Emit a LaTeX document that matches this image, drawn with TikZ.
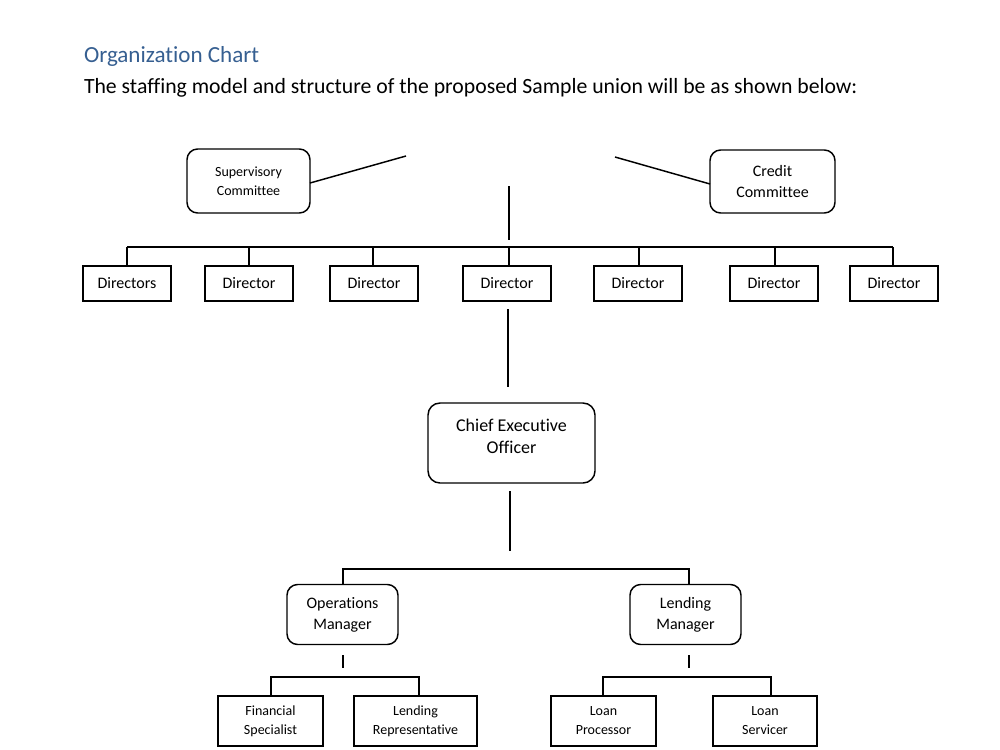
\documentclass[tikz,border=0pt]{standalone}
\usepackage{fontspec}
\setmainfont{Carlito}[Ligatures=NoCommon]
\definecolor{titleblue}{RGB}{54,95,145}
\begin{document}
\begin{tikzpicture}[x=0.75pt,y=-0.75pt,
  every node/.style={inner sep=0pt,outer sep=0pt},
  ln/.style={draw=black,line width=1.1pt},
  box/.style={draw=black,line width=1.1pt,align=center,fill=white},
  rbox/.style={box,rounded corners=8pt},
  dirbox/.style={box,minimum width=66pt,minimum height=26.25pt,font=\fontsize{12pt}{14pt}\selectfont},
  smallbox/.style={box,minimum height=37.5pt,font=\fontsize{10.5pt}{14.2pt}\selectfont},
  midfont/.style={font=\fontsize{12pt}{15.7pt}\selectfont}
]
\useasboundingbox (0,0) rectangle (1000,750);
% titles
\node[anchor=base west,text=titleblue,font=\fontsize{17.3pt}{20pt}\selectfont] (title) at (84,62) {Organization Chart};
\node[anchor=base west,font=\fontsize{16.3pt}{19pt}\selectfont] (subtitle) at (84,93) {The staffing model and structure of the proposed Sample union will be as shown below:};

% committees
\node[rbox,minimum width=92.25pt,minimum height=48pt,font=\fontsize{10.5pt}{14.2pt}\selectfont] (sup) at (248.5,181) {Supervisory\\Committee};
\node[rbox,minimum width=93.75pt,minimum height=47.25pt,midfont] (cred) at (772.5,181.5) {Credit\\Committee};
\coordinate (supend) at (406,156);
\coordinate (credend) at (615,157);
\draw[ln] (sup.east |- 0,183) -- (supend);
\draw[ln] (credend) -- (cred.west |- 0,184);
\coordinate (boardtop) at (509,186);
\coordinate (boardbot) at (509,240);
\draw[ln] (boardtop) -- (boardbot);

% directors
\node[dirbox] (d1) at (127,283.5) {Directors};
\node[dirbox] (d2) at (249,283.5) {Director};
\node[dirbox] (d3) at (374,283.5) {Director};
\node[dirbox] (d4) at (507,283.5) {Director};
\node[dirbox] (d5) at (638,283.5) {Director};
\node[dirbox] (d6) at (774,283.5) {Director};
\node[dirbox] (d7) at (894,283.5) {Director};
\coordinate (barL) at (127,247);
\coordinate (barR) at (893,247);
\draw[ln] (barL) -- (barR);
\foreach \d/\x in {d1/127,d2/249,d3/373,d4/509,d5/639,d6/775,d7/893}
  \draw[ln] (\x,247) -- (\d.north -| \x,0);

% CEO
\node[rbox,rounded corners=9pt,minimum width=125.25pt,minimum height=60pt,text depth=10pt,font=\fontsize{13.5pt}{16.5pt}\selectfont] (ceo) at (511.5,443) {Chief Executive\\Officer};
\coordinate (dl1) at (508,309);
\coordinate (dl2) at (508,387);
\draw[ln] (dl1) -- (dl2);
\coordinate (cl1) at (510,491);
\coordinate (cl2) at (510,551);
\draw[ln] (cl1) -- (cl2);

% managers
\node[rbox,minimum width=83.25pt,minimum height=45pt,midfont] (ops) at (342.5,614.5) {Operations\\Manager};
\node[rbox,minimum width=83.25pt,minimum height=45pt,midfont] (lm) at (685.5,614.5) {Lending\\Manager};
\coordinate (mbarL) at (343,569);
\coordinate (mbarR) at (689,569);
\draw[ln] (ops.north -| mbarL) -- (mbarL) -- (mbarR) -- (lm.north -| mbarR);
\coordinate (ot1) at (343,655);
\coordinate (ot2) at (343,668);
\draw[ln] (ot1) -- (ot2);
\coordinate (lt1) at (689,655);
\coordinate (lt2) at (689,668);
\draw[ln] (lt1) -- (lt2);

% staff
\node[smallbox,minimum width=78.75pt] (fs) at (270.5,721) {Financial\\Specialist};
\node[smallbox,minimum width=92.25pt] (lr) at (415.5,721) {Lending\\Representative};
\node[smallbox,minimum width=78.75pt] (lp) at (603.5,721) {Loan\\Processor};
\node[smallbox,minimum width=78pt] (ls) at (765,721) {Loan\\Servicer};
\draw[ln] (fs.north -| 271,0) -- (271,677) -- (419,677) -- (lr.north -| 419,0);
\draw[ln] (lp.north -| 603,0) -- (603,677) -- (771,677) -- (ls.north -| 771,0);
\end{tikzpicture}
\end{document}
